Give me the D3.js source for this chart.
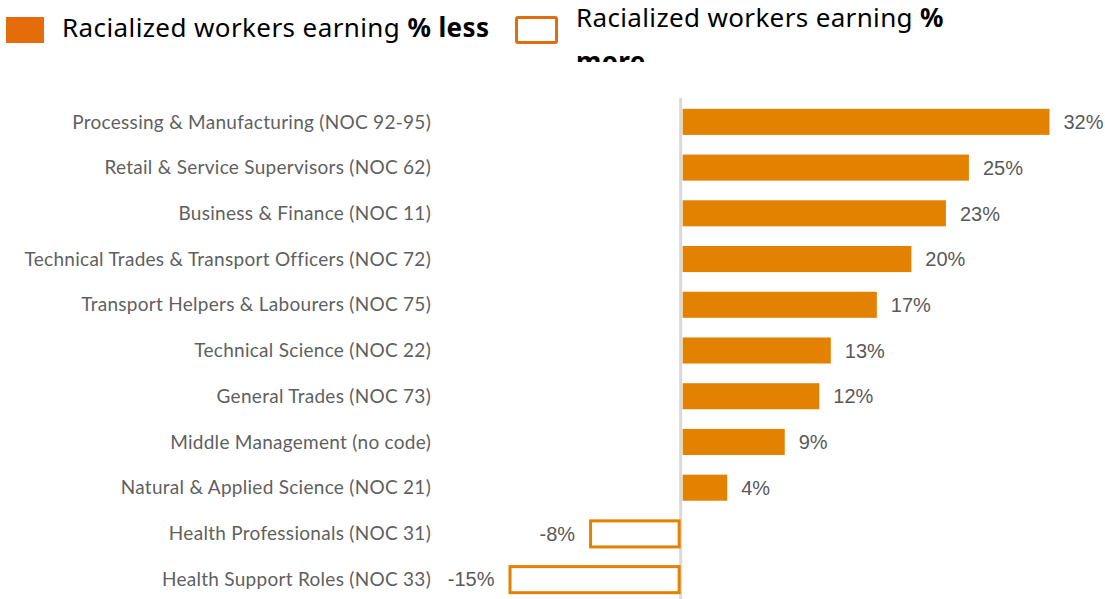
<!DOCTYPE html>
<html>
<head>
<meta charset="utf-8">
<script src="https://cdn.jsdelivr.net/npm/d3@7"></script>
<style>
  html, body { margin: 0; padding: 0; background: #fff; }
  svg { display: block; }
</style>
</head>
<body>
<svg id="chart" width="1105" height="599"></svg>
<script>
const categories = [
  "Processing & Manufacturing (NOC 92-95)",
  "Retail & Service Supervisors (NOC 62)",
  "Business & Finance (NOC 11)",
  "Technical Trades & Transport Officers (NOC 72)",
  "Transport Helpers & Labourers (NOC 75)",
  "Technical Science (NOC 22)",
  "General Trades (NOC 73)",
  "Middle Management (no code)",
  "Natural & Applied Science (NOC 21)",
  "Health Professionals (NOC 31)",
  "Health Support Roles (NOC 33)"
];
const values = [32, 25, 23, 20, 17, 13, 12, 9, 4, -8, -15];
const legendLabels = ["Racialized workers earning ", "% less", "% more"];

const svg = d3.select("#chart");
const W = 1105, H = 599;

const x = d3.scaleLinear().domain([-15, 32]).range([508.5, 1049.5]);
const y = d3.scaleBand().domain(categories).range([99, 602])
  .paddingInner(0.43).paddingOuter(0.215);

const barColor = "#E38200";
const legendColor = "#E46C0A";

// axis line at zero
svg.append("line")
  .attr("x1", x(0) - 0.5).attr("x2", x(0) - 0.5)
  .attr("y1", 98).attr("y2", H)
  .attr("stroke", "#d9d9d9").attr("stroke-width", 3);

const data = categories.map((c, i) => ({ c, v: values[i] }));

// positive bars
svg.selectAll("rect.pos").data(data.filter(d => d.v >= 0)).join("rect")
  .attr("class", "pos")
  .attr("x", x(0) + 1.5)
  .attr("y", d => y(d.c))
  .attr("width", d => x(d.v) - x(0) - 1.5)
  .attr("height", y.bandwidth())
  .attr("fill", barColor);

// negative bars (outlined)
svg.selectAll("rect.neg").data(data.filter(d => d.v < 0)).join("rect")
  .attr("class", "neg")
  .attr("x", d => x(d.v) + 1.5)
  .attr("y", d => y(d.c) + 0.5)
  .attr("width", d => x(0) - 2 - x(d.v) - 1.5)
  .attr("height", y.bandwidth())
  .attr("fill", "#fff")
  .attr("stroke", barColor)
  .attr("stroke-width", 3);

// category labels
const yAxis = d3.axisLeft(y).tickSize(0).tickPadding(0);
const gy = svg.append("g").attr("transform", "translate(431,0)").call(yAxis);
gy.select(".domain").remove();
gy.selectAll("text")
  .attr("font-family", "Lato, 'Noto Sans', sans-serif")
  .attr("font-size", 19)
  .attr("letter-spacing", 0.28)
  .attr("fill", "#5f5f5f")
  .attr("dy", "0.35em");

// value labels
svg.selectAll("text.val").data(data).join("text")
  .attr("class", "val")
  .attr("x", d => d.v >= 0 ? x(d.v) + 14 : x(d.v) - 14)
  .attr("y", d => y(d.c) + y.bandwidth() / 2)
  .attr("dy", "0.36em")
  .attr("text-anchor", d => d.v >= 0 ? "start" : "end")
  .attr("font-family", "'Liberation Sans', Arial, sans-serif")
  .attr("font-size", 20)
  .attr("fill", "#595959")
  .text(d => d.v + "%");

// legend
const lg = svg.append("g");
lg.append("rect").attr("x", 6).attr("y", 17).attr("width", 38).attr("height", 26)
  .attr("fill", legendColor);
const t1 = lg.append("text").attr("x", 62).attr("y", 37)
  .attr("font-family", "'Noto Sans', 'Open Sans', sans-serif")
  .attr("letter-spacing", 0.4)
  .attr("font-size", 26).attr("fill", "#000");
t1.append("tspan").text(legendLabels[0]);
t1.append("tspan").attr("font-weight", "bold").text(legendLabels[1]);

lg.append("rect").attr("x", 516.5).attr("y", 17.5).attr("width", 40).attr("height", 25)
  .attr("fill", "#fff").attr("stroke", legendColor).attr("stroke-width", 3).attr("rx", 1.5);

svg.append("defs").append("clipPath").attr("id", "lgclip")
  .append("rect").attr("x", 560).attr("y", 0).attr("width", 540).attr("height", 62);

const parts = legendLabels[2].split(" ");
const t2 = lg.append("text").attr("x", 576).attr("y", 27)
  .attr("clip-path", "url(#lgclip)")
  .attr("font-family", "'Noto Sans', 'Open Sans', sans-serif")
  .attr("letter-spacing", 0.35)
  .attr("font-size", 26).attr("fill", "#000");
t2.append("tspan").text(legendLabels[0]);
t2.append("tspan").attr("font-weight", "bold").text(parts[0]);
t2.append("tspan").attr("x", 576).attr("y", 71).attr("font-weight", "bold").text(parts[1]);
</script>
</body>
</html>
